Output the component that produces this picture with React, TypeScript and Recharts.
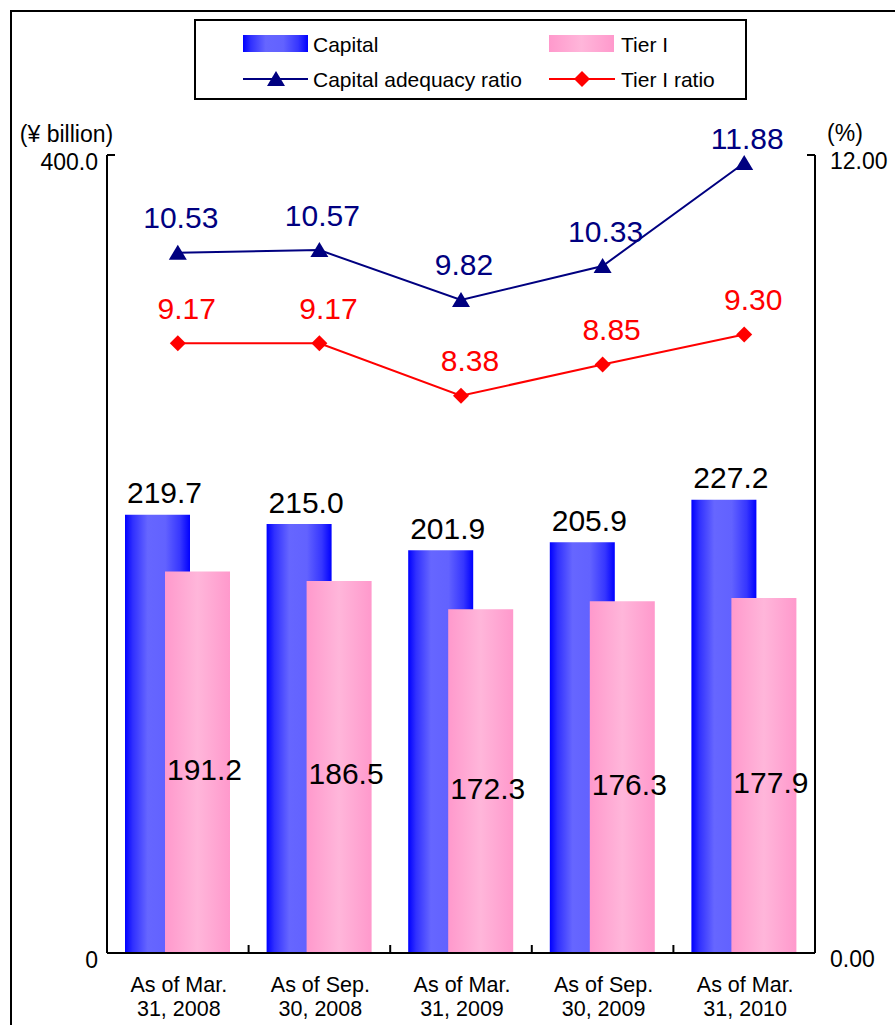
import React from 'react';
import { ComposedChart, Bar, Line, XAxis, YAxis, LabelList } from 'recharts';

// ---- data ----
const categories = [
  'As of Mar.\n31, 2008',
  'As of Sep.\n30, 2008',
  'As of Mar.\n31, 2009',
  'As of Sep.\n30, 2009',
  'As of Mar.\n31, 2010',
];
const capital = [219.7, 215.0, 201.9, 205.9, 227.2];
const tier1 = [191.2, 186.5, 172.3, 176.3, 177.9];
const capitalRatio = [10.53, 10.57, 9.82, 10.33, 11.88];
const tier1Ratio = [9.17, 9.17, 8.38, 8.85, 9.3];
const amountTicks = [0, 400];
const ratioTicks = [0, 12];

const data = categories.map((cat, i) => ({
  cat,
  capital: capital[i],
  tier1: tier1[i],
  capitalRatio: capitalRatio[i],
  tier1Ratio: tier1Ratio[i],
}));

// ---- layout ----
const W = 895;
const H = 1025;
const TOP = 155;
const LEFT_W = 107;
const RIGHT_W = 80;
const X_H = 72;
const PLOT_W = W - LEFT_W - RIGHT_W;
const BAND = PLOT_W / categories.length;

const FONT = '"Liberation Sans", Arial, Helvetica, sans-serif';
const NAVY = '#000080';
const RED = '#ff0000';

const fmtAmount = (v: number) => (v === 0 ? '0' : v.toFixed(1));
const fmtRatio = (v: number) => v.toFixed(2);

const LeftTick = (p: any) => {
  const { x, y, payload } = p;
  return (
    <g>
      <line x1={x} x2={x + 8} y1={y} y2={y} stroke="#000" strokeWidth={2} />
      <text x={x - 9} y={y + 7} textAnchor="end" dominantBaseline="central" fontSize={23} fontFamily={FONT} fill="#000">
        {fmtAmount(payload.value)}
      </text>
    </g>
  );
};

const RightTick = (p: any) => {
  const { x, y, payload } = p;
  return (
    <g>
      <line x1={x - 8} x2={x} y1={y} y2={y} stroke="#000" strokeWidth={2} />
      <text x={x + 15} y={y + 6} textAnchor="start" dominantBaseline="central" fontSize={23} fontFamily={FONT} fill="#000">
        {fmtRatio(payload.value)}
      </text>
    </g>
  );
};

const CategoryTick = (p: any) => {
  const { x, y, payload, index } = p;
  const lines = String(payload.value).split('\n');
  return (
    <g>
      {index < categories.length - 1 && (
        <line x1={x + BAND / 2} x2={x + BAND / 2} y1={y - 8} y2={y} stroke="#000" strokeWidth={2} />
      )}
      {lines.map((t, i) => (
        <text key={i} x={x + 1} y={y + 32 + i * 24} textAnchor="middle" dominantBaseline="central" fontSize={21.5} fontFamily={FONT} fill="#000">
          {t}
        </text>
      ))}
    </g>
  );
};

const TriangleDot = (p: any) => {
  const { cx, cy, index } = p;
  return <path key={`tri-${index}`} d={`M${cx},${cy - 8} L${cx + 9},${cy + 7} L${cx - 9},${cy + 7} Z`} fill={NAVY} />;
};

const DiamondDot = (p: any) => {
  const { cx, cy, index } = p;
  return <path key={`dia-${index}`} d={`M${cx},${cy - 8} L${cx + 8},${cy} L${cx},${cy + 8} L${cx - 8},${cy} Z`} fill={RED} />;
};

const CapitalLabel = (p: any) => {
  const { x, y, width, value } = p;
  return (
    <text x={x + width / 2 + 7} y={y - 22} textAnchor="middle" dominantBaseline="central" fontSize={30} fontFamily={FONT} fill="#000">
      {Number(value).toFixed(1)}
    </text>
  );
};

const Tier1Label = (p: any) => {
  const { x, y, width, height, value } = p;
  return (
    <text x={x + width / 2 + 7} y={y + height / 2 + 7} textAnchor="middle" dominantBaseline="central" fontSize={30} fontFamily={FONT} fill="#000">
      {Number(value).toFixed(1)}
    </text>
  );
};

const ratioLabel = (color: string, dx: number) => (p: any) => {
  const { x, y, value } = p;
  // keep the topmost label clear of the plot's upper edge
  const ly = Math.max(y - 35, TOP - 17);
  return (
    <text x={x + dx} y={ly} textAnchor="middle" dominantBaseline="central" fontSize={30} fontFamily={FONT} fill={color}>
      {Number(value).toFixed(2)}
    </text>
  );
};

const BlueStops = () => (
  <>
    <stop offset="0" stopColor="#0000ff" />
    <stop offset="0.12" stopColor="#3030ff" />
    <stop offset="0.35" stopColor="#6666ff" />
    <stop offset="0.62" stopColor="#6262ff" />
    <stop offset="0.85" stopColor="#3636ff" />
    <stop offset="1" stopColor="#0000ff" />
  </>
);

const PinkStops = () => (
  <>
    <stop offset="0" stopColor="#ff99cc" />
    <stop offset="0.5" stopColor="#ffb6da" />
    <stop offset="1" stopColor="#ff99cc" />
  </>
);

const LegendAndFrame = () => (
  <svg width={W} height={H} style={{ position: 'absolute', left: 0, top: 0, pointerEvents: 'none' }}>
    <defs>
      <linearGradient id="legBlue" x1="0" y1="0" x2="1" y2="0"><BlueStops /></linearGradient>
      <linearGradient id="legPink" x1="0" y1="0" x2="1" y2="0"><PinkStops /></linearGradient>
    </defs>
    {/* outer frame */}
    <line x1={11} x2={11} y1={10} y2={H} stroke="#000" strokeWidth={2} />
    <line x1={10} x2={W} y1={11} y2={11} stroke="#000" strokeWidth={2} />
    {/* legend box */}
    <rect x={195} y={20} width={551} height={79} fill="#fff" stroke="#000" strokeWidth={2} />
    <rect x={243} y={35} width={65} height={17} fill="url(#legBlue)" />
    <text x={313} y={44} dominantBaseline="central" fontSize={21} fontFamily={FONT} fill="#000">Capital</text>
    <rect x={549} y={35} width={65} height={17} fill="url(#legPink)" />
    <text x={621} y={44} dominantBaseline="central" fontSize={21} fontFamily={FONT} fill="#000">Tier I</text>
    <line x1={243} x2={308} y1={79} y2={79} stroke={NAVY} strokeWidth={2} />
    <path d={`M276,71 L285,86 L267,86 Z`} fill={NAVY} />
    <text x={313} y={79} dominantBaseline="central" fontSize={21} fontFamily={FONT} fill="#000">Capital adequacy ratio</text>
    <line x1={549} x2={615} y1={79} y2={79} stroke={RED} strokeWidth={2} />
    <path d={`M582,71 L590,79 L582,87 L574,79 Z`} fill={RED} />
    <text x={621} y={79} dominantBaseline="central" fontSize={21} fontFamily={FONT} fill="#000">Tier I ratio</text>
  </svg>
);

export default function App() {
  return (
    <div style={{ position: 'absolute', left: 0, top: 0, width: W, height: H, overflow: 'hidden', background: '#fff' }}>
      <ComposedChart
        width={W}
        height={H}
        data={data}
        margin={{ top: TOP, right: 0, bottom: 0, left: 0 }}
        barSize={65}
        barGap={-25}
      >
        <defs>
          <linearGradient id="capBlue" x1="0" y1="0" x2="1" y2="0"><BlueStops /></linearGradient>
          <linearGradient id="tierPink" x1="0" y1="0" x2="1" y2="0"><PinkStops /></linearGradient>
        </defs>
        <XAxis
          dataKey="cat"
          height={X_H}
          interval={0}
          tickLine={false}
          tickSize={0}
          tickMargin={0}
          axisLine={{ stroke: '#000', strokeWidth: 2 }}
          tick={CategoryTick}
        />
        <YAxis
          yAxisId="left"
          orientation="left"
          width={LEFT_W}
          domain={[0, 400]}
          ticks={amountTicks}
          interval={0}
          tickLine={false}
          tickSize={0}
          tickMargin={0}
          axisLine={{ stroke: '#000', strokeWidth: 2 }}
          tick={LeftTick}
          label={{ value: '(¥ billion)', position: 'top', offset: 13, dx: 13, fontSize: 23, fontFamily: FONT, fill: '#000' }}
        />
        <YAxis
          yAxisId="right"
          orientation="right"
          width={RIGHT_W}
          domain={[0, 12]}
          ticks={ratioTicks}
          interval={0}
          tickLine={false}
          tickSize={0}
          tickMargin={0}
          axisLine={{ stroke: '#000', strokeWidth: 2 }}
          tick={RightTick}
          label={{ value: '(%)', position: 'top', offset: 14, dx: -10, fontSize: 23, fontFamily: FONT, fill: '#000' }}
        />
        <Bar yAxisId="left" dataKey="capital" name="Capital" fill="url(#capBlue)" isAnimationActive={false}>
          <LabelList dataKey="capital" content={CapitalLabel} />
        </Bar>
        <Bar yAxisId="left" dataKey="tier1" name="Tier I" fill="url(#tierPink)" isAnimationActive={false}>
          <LabelList dataKey="tier1" content={Tier1Label} />
        </Bar>
        <Line
          yAxisId="right"
          dataKey="capitalRatio"
          name="Capital adequacy ratio"
          stroke={NAVY}
          strokeWidth={2}
          dot={TriangleDot}
          activeDot={false}
          isAnimationActive={false}
        >
          <LabelList dataKey="capitalRatio" content={ratioLabel(NAVY, 3)} />
        </Line>
        <Line
          yAxisId="right"
          dataKey="tier1Ratio"
          name="Tier I ratio"
          stroke={RED}
          strokeWidth={2}
          dot={DiamondDot}
          activeDot={false}
          isAnimationActive={false}
        >
          <LabelList dataKey="tier1Ratio" content={ratioLabel(RED, 9)} />
        </Line>
      </ComposedChart>
      <LegendAndFrame />
    </div>
  );
}
